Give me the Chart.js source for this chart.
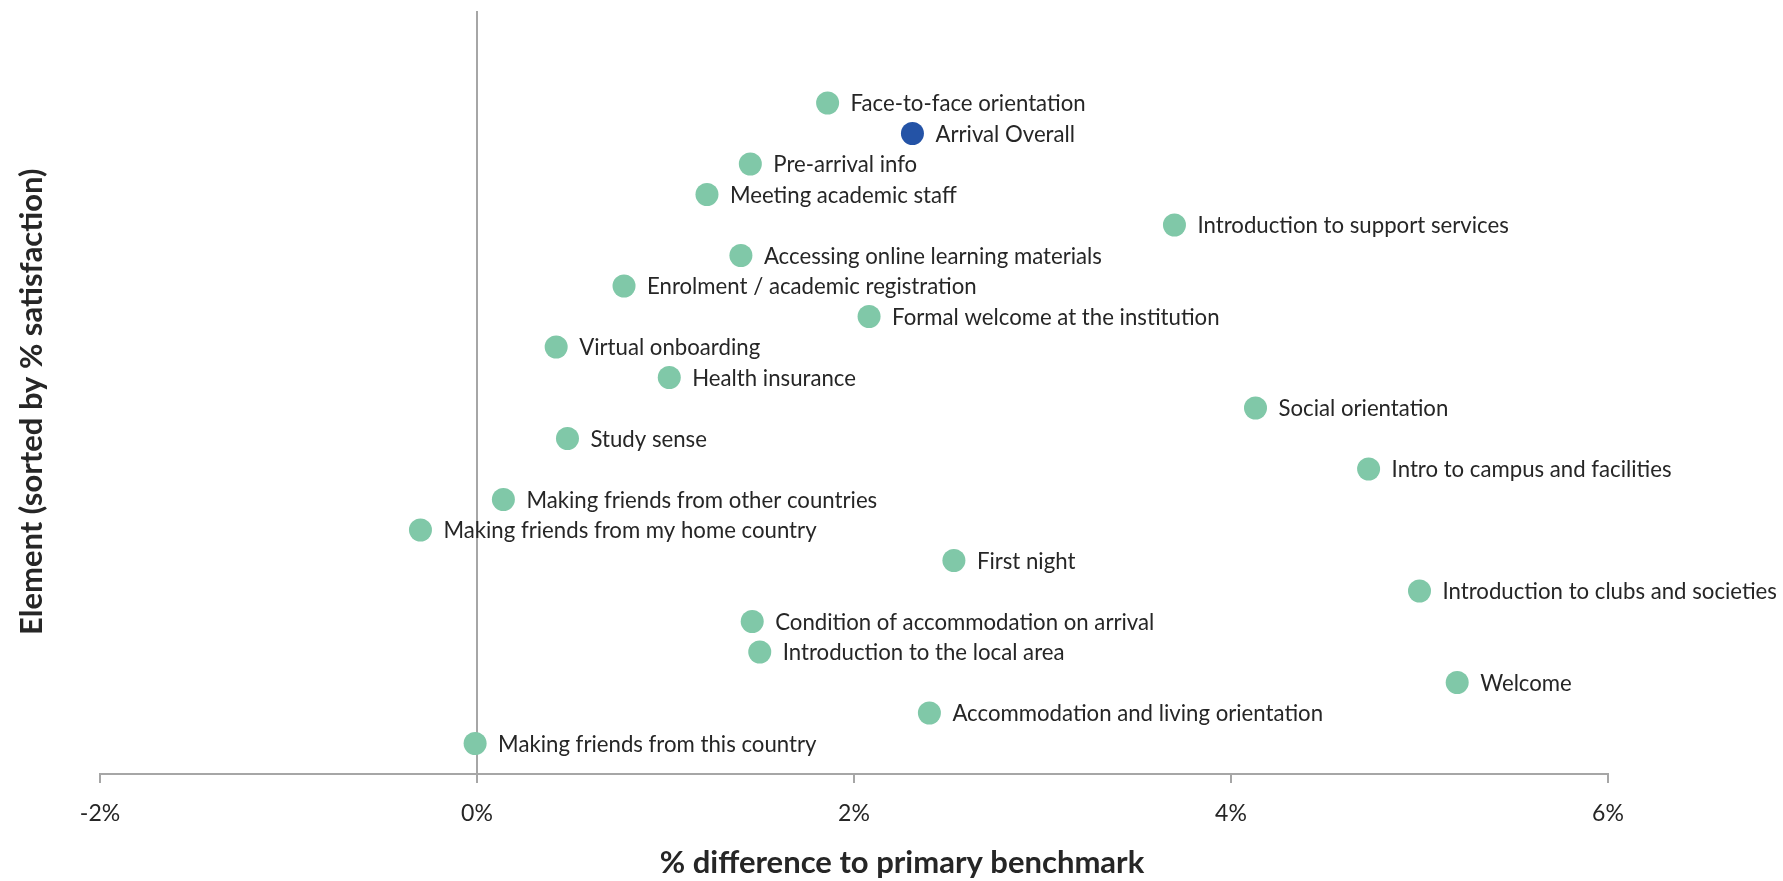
<!DOCTYPE html>
<html>
<head>
<meta charset="utf-8">
<script src="https://cdn.jsdelivr.net/npm/chart.js@4/dist/chart.umd.min.js"></script>
<style>
  html, body { margin: 0; padding: 0; background: #fff; }
  #wrap { width: 1783px; height: 881px; }
</style>
</head>
<body>
<div id="wrap"><canvas id="benchChart"></canvas></div>
<script>
// elements, top to bottom (sorted by % satisfaction)
const elements = [
  'Face-to-face orientation',
  'Arrival Overall',
  'Pre-arrival info',
  'Meeting academic staff',
  'Introduction to support services',
  'Accessing online learning materials',
  'Enrolment / academic registration',
  'Formal welcome at the institution',
  'Virtual onboarding',
  'Health insurance',
  'Social orientation',
  'Study sense',
  'Intro to campus and facilities',
  'Making friends from other countries',
  'Making friends from my home country',
  'First night',
  'Introduction to clubs and societies',
  'Condition of accommodation on arrival',
  'Introduction to the local area',
  'Welcome',
  'Accommodation and living orientation',
  'Making friends from this country'
];

// % difference to primary benchmark
const diffs = [
  1.86, 2.31, 1.45, 1.22, 3.70, 1.40, 0.78, 2.08, 0.42, 1.02, 4.13,
  0.48, 4.73, 0.14, -0.30, 2.53, 5.00, 1.46, 1.50, 5.20, 2.40, -0.01
];

const xTicks = [-2, 0, 2, 4, 6];
const overallName = 'Arrival Overall';
const xTitleText = '% difference to primary benchmark';
const yTitleText = 'Element (sorted by % satisfaction)';

const green = '#80c8a8';
const blue = '#2453a6';
const axisGrey = '#a6a6a6';
const textCol = '#262626';

// rank from the bottom so the first element sits highest
const points = elements.map((name, i) => ({ x: diffs[i], y: elements.length - i, name: name }));
const colours = elements.map(name => name === overallName ? blue : green);

const pointLabels = {
  id: 'pointLabels',
  afterDatasetsDraw(chart) {
    const ctx = chart.ctx;
    const meta = chart.getDatasetMeta(0);
    ctx.save();
    ctx.font = '22.2px Lato';
    ctx.fillStyle = textCol;
    ctx.textBaseline = 'middle';
    ctx.textAlign = 'left';
    meta.data.forEach((pt, i) => {
      ctx.fillText(points[i].name, pt.x + 23, pt.y + 1);
    });
    ctx.restore();
  }
};

// axis titles, placed like the original (x title sits right of the plot centre)
const axisTitles = {
  id: 'axisTitles',
  afterDraw(chart) {
    const ctx = chart.ctx;
    const area = chart.chartArea;
    ctx.save();
    ctx.font = 'bold 31px Lato';
    ctx.fillStyle = textCol;
    ctx.textAlign = 'center';
    ctx.textBaseline = 'middle';
    ctx.fillText(xTitleText, 902, 863);
    ctx.translate(32, (area.top + area.bottom) / 2 + 9);
    ctx.rotate(-Math.PI / 2);
    ctx.fillText(yTitleText, 0, 0);
    ctx.restore();
  }
};

new Chart(document.getElementById('benchChart'), {
  type: 'scatter',
  data: {
    datasets: [{
      label: 'Elements',
      data: points,
      pointBackgroundColor: colours,
      pointBorderWidth: 0,
      pointRadius: 11.5,
      pointHoverRadius: 11.5
    }]
  },
  options: {
    responsive: true,
    maintainAspectRatio: false,
    animation: false,
    layout: { padding: { left: 100, right: 175, top: 8, bottom: 0 } },
    plugins: {
      legend: { display: false },
      tooltip: { enabled: false }
    },
    scales: {
      x: {
        type: 'linear',
        min: -2,
        max: 6,
        afterBuildTicks: axis => { axis.ticks = xTicks.map(v => ({ value: v })); },
        afterFit: axis => { axis.height = 107; },
        ticks: {
          callback: v => v + '%',
          color: textCol,
          font: { family: 'Lato', size: 23 },
          padding: 17,
          maxRotation: 0
        },
        grid: { drawOnChartArea: false, drawTicks: true, tickLength: 9, color: axisGrey, lineWidth: 2 },
        border: { display: true, color: axisGrey, width: 2 }
      },
      y: {
        type: 'linear',
        position: { x: 0 },
        min: 0,
        max: 25,
        ticks: { display: false },
        grid: { display: true, drawOnChartArea: false, drawTicks: false },
        border: { display: true, color: axisGrey, width: 2 }
      }
    }
  },
  plugins: [pointLabels, axisTitles]
});
</script>
</body>
</html>
